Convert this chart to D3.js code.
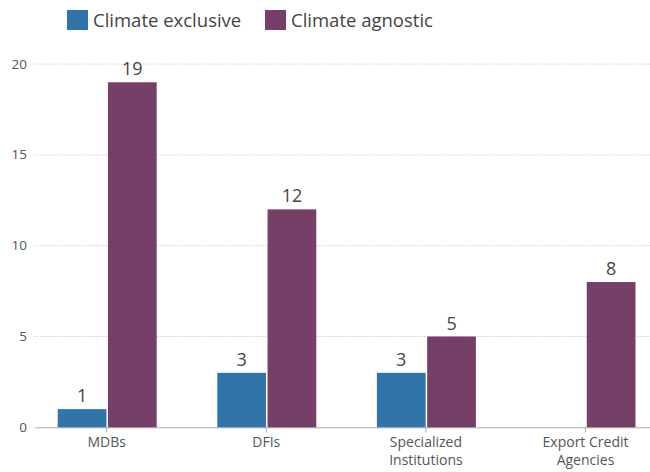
<!DOCTYPE html>
<html><head><meta charset="utf-8">
<script src="https://cdn.jsdelivr.net/npm/d3@7"></script>
<style>body{margin:0;background:#fff;} text{font-family:"Open Sans",sans-serif;}</style>
</head><body>
<svg id="c" width="650" height="472"></svg>
<script>
const categories = [["MDBs"], ["DFIs"], ["Specialized", "Institutions"], ["Export Credit", "Agencies"]];
const seriesNames = ["Climate exclusive", "Climate agnostic"];
const exclusiveValues = [1, 3, 3, null];
const agnosticValues = [19, 12, 5, 8];
const yTicks = [0, 5, 10, 15, 20];
const colors = ["#3174a9", "#763f68"];

const svg = d3.select("#c");
const keys = categories.map(c => c.join(" "));
const x = d3.scaleBand().domain(keys).range([26.9, 665.3]);
const y = d3.scaleLinear().domain([0, 20]).range([427.3, 64.1]);
const sub = d3.scaleBand().domain(seriesNames).range([-49, 50]).paddingInner(0.03);

// grid
svg.append("g").selectAll("line").data(yTicks.filter(d => d > 0)).join("line")
  .attr("x1", 34).attr("x2", 650).attr("y1", d => y(d)).attr("y2", d => y(d))
  .attr("stroke", "#cfcfcf").attr("stroke-width", 1).attr("stroke-dasharray", "1.5,1.5");

// y labels
const yAxis = d3.axisLeft(y).tickValues(yTicks).tickSize(0).tickPadding(0);
const yg = svg.append("g").attr("transform", "translate(27,0)").call(yAxis);
yg.select(".domain").remove();
yg.selectAll("text").attr("font-size", 13.5).attr("fill", "#555").attr("font-family", "Open Sans, sans-serif").attr("dy", "0.3em");

// x axis
const xAxis = d3.axisBottom(x).tickSize(5).tickFormat(() => "");
const xg = svg.append("g").attr("transform", "translate(0,427.3)").call(xAxis);
xg.select(".domain").attr("d", "M35,0.5H650").attr("stroke", "#aaa");
xg.selectAll(".tick line").attr("stroke", "#aaa");
xg.selectAll(".tick").each(function(d, i) {
  const t = d3.select(this).append("text").attr("fill", "#555").attr("font-size", 14)
    .attr("text-anchor", "middle").attr("font-family", "Open Sans, sans-serif");
  categories[i].forEach((line, j) => {
    t.append("tspan").attr("x", 0).attr("y", 20 + j * 18).text(line);
  });
});

// bars
const series = [exclusiveValues, agnosticValues];
series.forEach((vals, si) => {
  const g = svg.append("g");
  keys.forEach((k, i) => {
    const v = vals[i];
    if (v == null) return;
    const bx = x(k) + x.bandwidth() / 2 + sub(seriesNames[si]);
    g.append("rect").attr("x", bx).attr("y", y(v)).attr("width", sub.bandwidth())
      .attr("height", y(0) - y(v)).attr("fill", colors[si]);
    g.append("text").attr("x", bx + sub.bandwidth() / 2).attr("y", y(v) - 7)
      .attr("text-anchor", "middle").attr("font-size", 18).attr("fill", "#444").text(v);
  });
});

// legend
const legX = [67, 265];
seriesNames.forEach((n, i) => {
  svg.append("rect").attr("x", legX[i]).attr("y", 10).attr("width", 21).attr("height", 20).attr("fill", colors[i]);
  svg.append("text").attr("x", legX[i] + 26).attr("y", 26.5).attr("font-size", 18.5).attr("fill", "#444").text(n);
});
</script>
</body></html>
